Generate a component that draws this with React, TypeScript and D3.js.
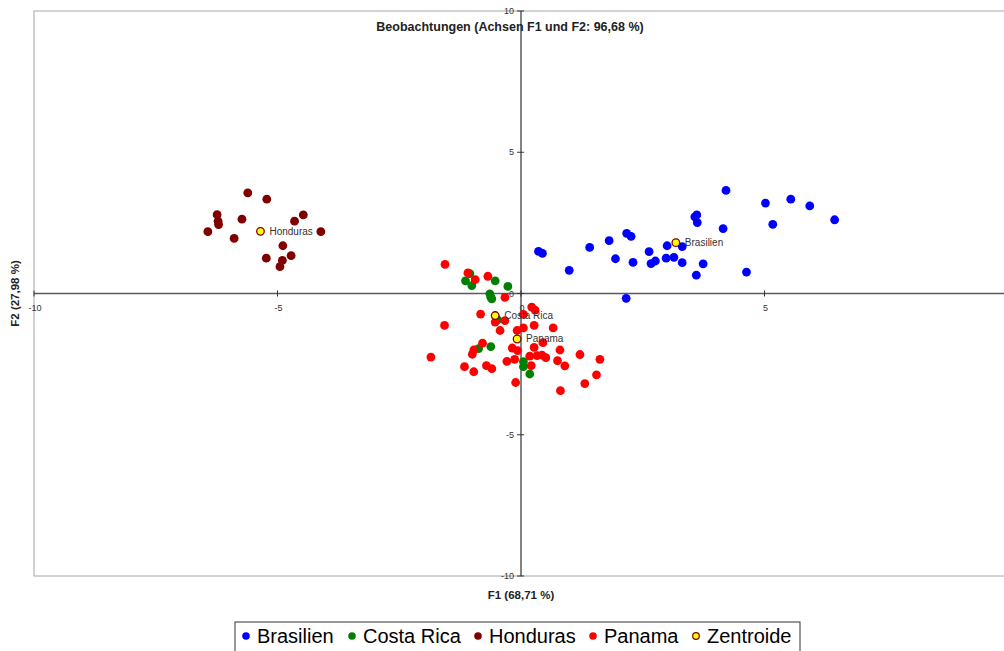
import React from 'react';
import * as d3 from 'd3';

const W = 1004;
const H = 651;

const title = 'Beobachtungen (Achsen F1 und F2: 96,68 %)';
const xTitle = 'F1 (68,71 %)';
const yTitle = 'F2 (27,98 %)';
const xTicks = [-10, -5, 0, 5, 10];
const yTicks = [-10, -5, 0, 5, 10];

const brasilien: [number, number][] = [
  [4.21, 3.65], [5.02, 3.2], [5.54, 3.34], [5.93, 3.1], [6.44, 2.61], [5.17, 2.45],
  [3.57, 2.71], [3.61, 2.78], [3.62, 2.51], [4.15, 2.3], [1.81, 1.87], [2.17, 2.13],
  [2.26, 2.02], [3.0, 1.69], [3.31, 1.66], [2.63, 1.48], [1.94, 1.23], [2.3, 1.1],
  [2.67, 1.06], [2.76, 1.15], [2.98, 1.25], [3.14, 1.28], [3.31, 1.09], [3.74, 1.05],
  [3.6, 0.65], [4.63, 0.76], [2.16, -0.17], [1.41, 1.63], [0.36, 1.49], [0.44, 1.42],
  [0.99, 0.82],
];

const costaRica: [number, number][] = [
  [-1.05, 0.7], [-1.14, 0.45], [-1.01, 0.28], [-0.53, 0.45], [-0.27, 0.25], [-0.64, -0.01],
  [-0.62, -0.13], [-0.6, -0.19], [-0.48, -0.93], [-0.87, -1.95], [-0.62, -1.88], [0.05, -2.41],
  [0.05, -2.59], [0.18, -2.85],
];

const honduras: [number, number][] = [
  [-5.61, 3.56], [-5.22, 3.34], [-6.24, 2.79], [-6.22, 2.56], [-6.21, 2.44], [-5.73, 2.63],
  [-6.43, 2.19], [-5.89, 1.95], [-4.65, 2.56], [-4.47, 2.78], [-4.11, 2.19], [-4.89, 1.69],
  [-4.72, 1.34], [-5.23, 1.25], [-4.9, 1.17], [-4.95, 0.95],
];

const panama: [number, number][] = [
  [-1.56, 1.03], [-1.09, 0.73], [-0.94, 0.49], [-0.68, 0.61], [-0.33, -0.14], [0.22, -0.48],
  [0.29, -0.59], [-0.83, -0.73], [-0.53, -1.01], [-0.33, -0.96], [-1.57, -1.13], [-0.43, -1.31],
  [-0.08, -1.31], [0.05, -1.22], [0.27, -1.13], [0.66, -1.22], [-0.79, -1.76], [-0.97, -2.0],
  [-1.0, -2.15], [-1.85, -2.25], [-0.18, -1.93], [-0.07, -2.02], [0.27, -1.91], [0.45, -1.74],
  [0.8, -2.0], [1.21, -2.16], [1.62, -2.33], [0.18, -2.22], [0.33, -2.2], [0.43, -2.18],
  [0.51, -2.27], [-0.29, -2.4], [-0.13, -2.33], [-1.16, -2.59], [-0.71, -2.55], [-0.6, -2.66],
  [-0.97, -2.77], [0.21, -2.55], [0.75, -2.38], [0.9, -2.56], [1.55, -2.88], [1.31, -3.19],
  [-0.11, -3.15], [0.81, -3.44], [0.05, -0.74],
];

const centroidNames = ['Brasilien', 'Costa Rica', 'Honduras', 'Panama'];
const centroidX = [3.18, -0.53, -5.35, -0.08];
const centroidY = [1.8, -0.78, 2.2, -1.61];

const legendNames = ['Brasilien', 'Costa Rica', 'Honduras', 'Panama', 'Zentroide'];

const FONT = '"Liberation Sans", Arial, sans-serif';

const seriesList = [
  { name: 'Brasilien', data: brasilien, color: '#0000FF' },
  { name: 'Costa Rica', data: costaRica, color: '#008000' },
  { name: 'Honduras', data: honduras, color: '#800000' },
  { name: 'Panama', data: panama, color: '#FF0000' },
];

export default function App() {
  const x = d3.scaleLinear().domain([-10, 10]).range([34, 1008]);
  const y = d3.scaleLinear().domain([-10, 10]).range([576, 11]);
  const x0 = x(0);
  const y0 = y(0);

  const legendColors: Record<string, string> = {
    Brasilien: '#0000FF',
    'Costa Rica': '#008000',
    Honduras: '#800000',
    Panama: '#FF0000',
  };
  const legendDotX = [246, 352, 478, 593, 696];

  return (
    <svg
      width={W}
      height={H}
      style={{ position: 'absolute', left: 0, top: 0, display: 'block', background: '#fff' }}
      fontFamily={FONT}
    >
      <rect x={0} y={0} width={W} height={H} fill="#fff" />
      {/* plot frame */}
      <rect x={x(-10)} y={y(10)} width={x(10) - x(-10)} height={y(-10) - y(10)} fill="none" stroke="#a6a6a6" strokeWidth={1} />
      {/* axes */}
      <line x1={x(-10)} x2={x(10)} y1={y0} y2={y0} stroke="#5a5a5a" strokeWidth={1.5} />
      <line x1={x0} x2={x0} y1={y(10)} y2={y(-10)} stroke="#5a5a5a" strokeWidth={1.5} />
      {xTicks.map((t) => (
        <g key={'xt' + t}>
          <line x1={x(t)} x2={x(t)} y1={y0 - 3} y2={y0 + 3} stroke="#333" strokeWidth={1} />
          {x(t) < W - 6 && (
            <text x={x(t) + 1} y={y0 + 17} fontSize={9} fill="#333" textAnchor="middle">{t}</text>
          )}
        </g>
      ))}
      {yTicks.map((t) => (
        <g key={'yt' + t}>
          <line x1={x0 - 4} x2={x0 + 3} y1={y(t)} y2={y(t)} stroke="#333" strokeWidth={1} />
          <text x={x0 - 7} y={y(t) + 3} fontSize={9} fill="#333" textAnchor="end">{t}</text>
        </g>
      ))}
      {/* points */}
      {seriesList.map((s) => (
        <g key={s.name}>
          {s.data.map((d, i) => (
            <circle key={i} cx={x(d[0])} cy={y(d[1])} r={4.4} fill={s.color} />
          ))}
        </g>
      ))}
      {/* centroids */}
      {centroidNames.map((n, i) => (
        <g key={'c' + n}>
          <circle cx={x(centroidX[i])} cy={y(centroidY[i])} r={3.8} fill="#FFFF00" stroke="#800000" strokeWidth={1.3} />
          <text x={x(centroidX[i]) + 9} y={y(centroidY[i]) + 3.5} fontSize={10} fill="#333">{n}</text>
        </g>
      ))}
      {/* titles */}
      <text x={510} y={31} fontSize={12.5} fontWeight="bold" fill="#222" textAnchor="middle">{title}</text>
      <text x={521} y={599} fontSize={11.5} fontWeight="bold" fill="#222" textAnchor="middle">{xTitle}</text>
      <text transform={`translate(19,${y0}) rotate(-90)`} fontSize={11.5} fontWeight="bold" fill="#222" textAnchor="middle">{yTitle}</text>
      {/* legend */}
      <rect x={235} y={622} width={565} height={40} fill="#fff" stroke="#333" strokeWidth={1} />
      {legendNames.map((n, i) => (
        <g key={'l' + n}>
          {n === 'Zentroide' ? (
            <circle cx={legendDotX[i]} cy={636} r={3.3} fill="#FFFF00" stroke="#800000" strokeWidth={1.2} />
          ) : (
            <circle cx={legendDotX[i]} cy={636} r={3.8} fill={legendColors[n]} />
          )}
          <text x={legendDotX[i] + 11} y={643} fontSize={20} fill="#000">{n}</text>
        </g>
      ))}
    </svg>
  );
}
